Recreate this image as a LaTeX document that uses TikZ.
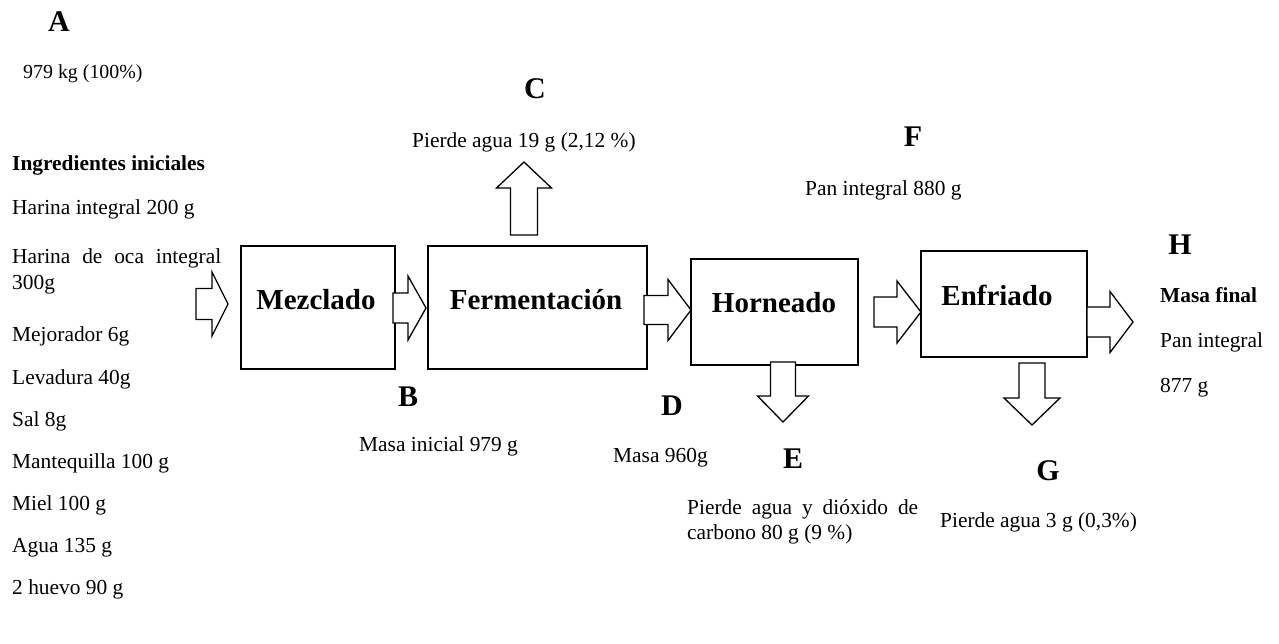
\documentclass[tikz,border=0pt]{standalone}
\usepackage{fontspec}
\setmainfont{Liberation Serif}
\usetikzlibrary{calc}
\tikzset{
  box/.style={draw, line width=1.5pt, inner sep=0pt},
  blk/.style={draw, line width=1.3pt, fill=white, line join=miter},
  txt/.style={inner sep=0pt, anchor=west, font=\fontsize{21.4}{25}\selectfont, text height=14.6pt, text depth=4.6pt},
  btxt/.style={txt, font=\fontsize{21.4}{25}\selectfont\bfseries},
  letter/.style={inner sep=0pt, anchor=center, font=\fontsize{30}{34}\selectfont\bfseries, text height=20pt, text depth=0pt},
  blabel/.style={inner sep=0pt, anchor=center, font=\fontsize{29}{33}\selectfont\bfseries, text height=19.7pt, text depth=0pt}
}
\newcommand{\rightblock}[5]{\draw[blk] let \p1=(#1),\p2=(#2) in
  (\x1,\y2+#3)--(\x2-#5,\y2+#3)--(\x2-#5,\y2+#4)--(\x2,\y2)--(\x2-#5,\y2-#4)--(\x2-#5,\y2-#3)--(\x1,\y2-#3)--cycle;}
\newcommand{\vertblock}[6]{\draw[blk] let \p1=(#1),\p2=(#2) in
  (\x2+#3,\y1)--(\x2+#3,\y2+#6*#5)--(\x2+#4,\y2+#6*#5)--(\x2,\y2)--(\x2-#4,\y2+#6*#5)--(\x2-#3,\y2+#6*#5)--(\x2-#3,\y1)--cycle;}
\begin{document}
\begin{tikzpicture}[x=1pt,y=-1pt]
\useasboundingbox (0,0) rectangle (1279,643);

% process boxes
\node[box, minimum width=154pt, minimum height=123pt] (mez) at (318,307.5) {};
\node[box, minimum width=219pt, minimum height=123pt] (fer) at (537.5,307.5) {};
\node[box, minimum width=167pt, minimum height=106pt] (hor) at (774.5,312) {};
\node[box, minimum width=166pt, minimum height=106pt] (enf) at (1004,304) {};

\node[blabel] (mezl) at (316,300) {Mezclado};
\node[blabel] (ferl) at (536,300) {Fermentación};
\node[blabel] (horl) at (774,303) {Horneado};
\node[blabel] (enfl) at (997,296) {Enfriado};

% arrow end points
\coordinate (inT) at (196,304);   \coordinate (inH) at (228,304);
\coordinate (a2T) at (393,308);   \coordinate (a2H) at (426,308);
\coordinate (a3T) at (644,310);   \coordinate (a3H) at (691,310);
\coordinate (a4T) at (874,312);   \coordinate (a4H) at (921,312);
\coordinate (outT) at (1087,322); \coordinate (outH) at (1133,322);
\coordinate (cT) at (524,235);    \coordinate (cH) at (524,162);
\coordinate (eT) at (783,362);    \coordinate (eH) at (783,422);
\coordinate (gT) at (1032,363);   \coordinate (gH) at (1032,425);

\rightblock{inT}{inH}{15.5pt}{32pt}{16pt}
\rightblock{a2T}{a2H}{15pt}{32pt}{18pt}
\rightblock{a3T}{a3H}{14.5pt}{30.5pt}{23pt}
\rightblock{a4T}{a4H}{15pt}{31pt}{24pt}
\rightblock{outT}{outH}{15pt}{30.5pt}{23pt}
\vertblock{cT}{cH}{13.5pt}{27.5pt}{26pt}{-1}
\vertblock{eT}{eH}{12.5pt}{25.5pt}{26pt}{1}
\vertblock{gT}{gH}{13pt}{28pt}{27pt}{1}

% letters
\node[letter] (lA) at (59,21) {A};
\node[letter] (lB) at (408,396) {B};
\node[letter] (lC) at (535,88) {C};
\node[letter] (lD) at (672,405) {D};
\node[letter] (lE) at (793,458) {E};
\node[letter] (lF) at (913,136) {F};
\node[letter] (lG) at (1048,470) {G};
\node[letter] (lH) at (1180,244) {H};

% texts
\node[txt, font=\fontsize{19.9}{24}\selectfont] (tA) at (23,73) {979 kg (100\%)};
\node[txt] (tC) at (412,142) {Pierde agua 19 g (2,12 \%)};
\node[txt] (tF) at (805,190) {Pan integral 880 g};
\node[txt] (tB) at (359,446) {Masa inicial 979 g};
\node[txt] (tD) at (613,457) {Masa 960g};
\node[txt] (tE1) at (687,509) {\makebox[231pt][s]{Pierde agua y dióxido de}};
\node[txt] (tE2) at (687,534) {carbono 80 g (9 \%)};
\node[txt] (tG) at (940,522) {Pierde agua 3 g (0,3\%)};
\node[btxt] (tH1) at (1160,297) {Masa final};
\node[txt] (tH2) at (1160,342) {Pan integral};
\node[txt] (tH3) at (1160,387) {877 g};

% ingredients
\node[btxt] (i0) at (12,165) {Ingredientes iniciales};
\node[txt] (i1) at (12,209) {Harina integral 200 g};
\node[txt] (i2) at (12,258) {\makebox[209pt][s]{Harina de oca integral}};
\node[txt] (i2b) at (12,284) {300g};
\node[txt] (i3) at (12,336) {Mejorador 6g};
\node[txt] (i4) at (12,379) {Levadura 40g};
\node[txt] (i5) at (12,421) {Sal 8g};
\node[txt] (i6) at (12,463) {Mantequilla 100 g};
\node[txt] (i7) at (12,505) {Miel 100 g};
\node[txt] (i8) at (12,547) {Agua 135 g};
\node[txt] (i9) at (12,589) {2 huevo 90 g};
\end{tikzpicture}
\end{document}
